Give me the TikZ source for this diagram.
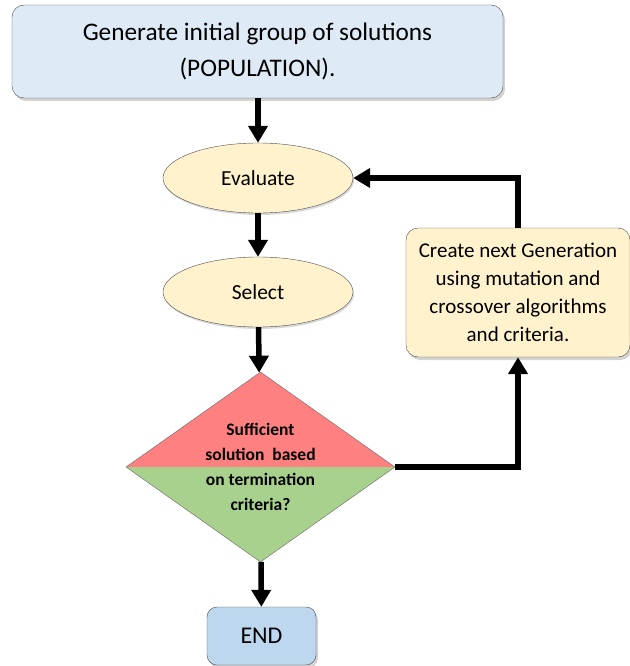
\documentclass[tikz,border=0pt]{standalone}
\usepackage{fontspec}
\setmainfont{Carlito}
\usetikzlibrary{shapes.geometric,arrows.meta,shadows}
\definecolor{initblue}{HTML}{DEEBF7}
\definecolor{endblue}{HTML}{BDD7EE}
\definecolor{stepyellow}{HTML}{FFF2CC}
\definecolor{checkred}{HTML}{FF8080}
\definecolor{checkgreen}{HTML}{A9D18E}
\begin{document}
\begin{tikzpicture}[
    x=1pt, y=-1pt,
    box/.style={rectangle, draw=black!70, rounded corners=12pt, align=center,
        drop shadow={shadow xshift=2pt, shadow yshift=-3pt, opacity=0.35}},
    start/.style={box, fill=initblue, minimum width=491pt, minimum height=93pt,
        font=\fontsize{25.3}{36}\selectfont},
    stage/.style={ellipse, draw=black!70, fill=stepyellow, minimum width=190pt, minimum height=70pt,
        font=\fontsize{21.5}{24}\selectfont,
        drop shadow={shadow xshift=1pt, shadow yshift=-2pt, opacity=0.3}},
    breed/.style={box, fill=stepyellow, minimum width=224pt, minimum height=129pt,
        font=\fontsize{21}{28}\selectfont},
    finish/.style={box, fill=endblue, rounded corners=10pt, minimum width=109pt, minimum height=58pt,
        font=\fontsize{24}{28}\selectfont},
    decision/.style={diamond, draw=black!60, inner sep=0pt, aspect=1.41,
        minimum width=269pt, minimum height=190pt, align=center,
        font=\bfseries\fontsize{17.5}{25}\selectfont,
        path picture={
            \fill[checkred] (path picture bounding box.north west) rectangle (path picture bounding box.east);
            \fill[checkgreen] (path picture bounding box.west) rectangle (path picture bounding box.south east);
        }},
    arrow/.style={-{Triangle[length=17pt,width=19pt]}, line width=5.5pt}
]
\useasboundingbox (0,0) rectangle (629,666);

% Main flow
\node[start] (init) at (257.5,51.5) {Generate initial group of solutions\\(POPULATION).};
\node[stage] (eval) at (258,178) {Evaluate};
\node[stage] (select) at (258,292) {Select};
\node[decision] (check) at (260.5,467) {Sufficient\\solution\ \ based\\on termination\\criteria?};
\node[finish] (end) at (261.5,636) {END};

% Next generation
\node[breed] (next) at (518,292.5) {Create next Generation\\using mutation and\\crossover algorithms\\and criteria.};

% Connections
\draw[arrow] (init.south -| eval.north) -- (eval.north);
\draw[arrow] (eval) -- (select);
\draw[arrow] (select) -- (check);
\draw[arrow] (check) -- (end);
\draw[arrow] (check.east) -| (next.south);
\draw[arrow] (next.north) |- (eval.east);

\end{tikzpicture}
\end{document}
